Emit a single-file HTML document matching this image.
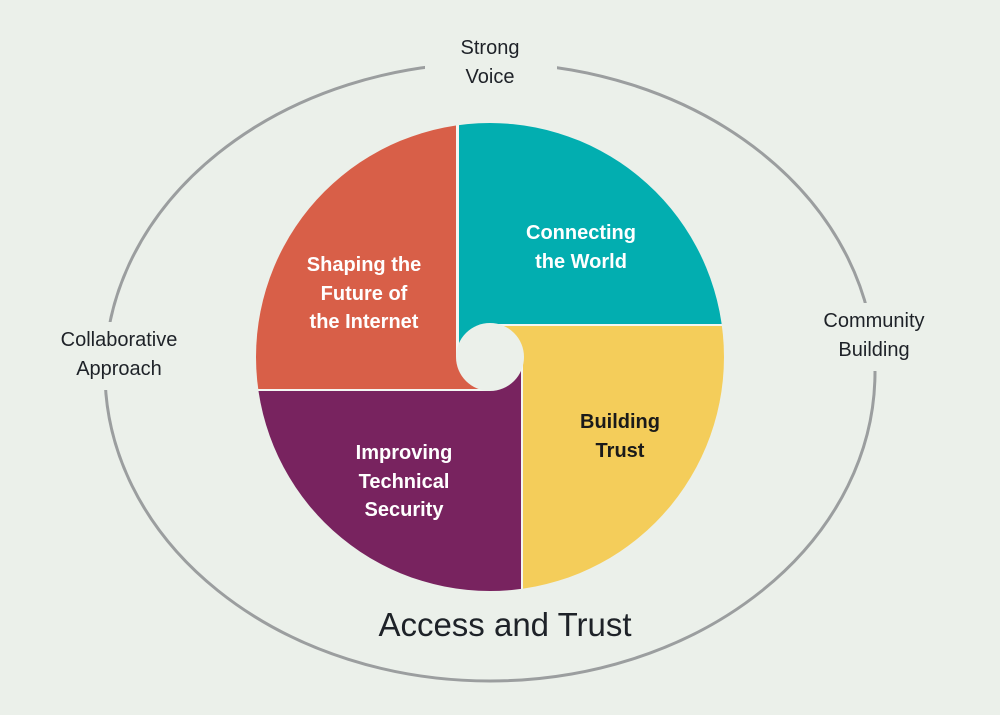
<!DOCTYPE html>
<html><head><meta charset="utf-8"><style>
html,body{margin:0;padding:0;background:#ebf0ea;}
svg{display:block}
text{font-family:"Liberation Sans",sans-serif;}
</style></head><body>
<svg width="1000" height="715" viewBox="0 0 1000 715" xmlns="http://www.w3.org/2000/svg">
<rect width="1000" height="715" fill="#ebf0ea"/>
<ellipse cx="490" cy="372" rx="385" ry="309" fill="none" stroke="#9b9e9f" stroke-width="3"/>
<rect x="425" y="40" width="132" height="50" fill="#ebf0ea"/>
<rect x="90" y="322" width="40" height="68" fill="#ebf0ea"/>
<rect x="850" y="303" width="40" height="68" fill="#ebf0ea"/>
<defs>
<clipPath id="c"><circle cx="490" cy="357" r="234"/></clipPath>
</defs>
<g clip-path="url(#c)">
<rect x="240" y="110" width="500" height="500" fill="#f4f6f2"/>
<rect x="240" y="110" width="216" height="279" fill="#d85f48"/>
<rect x="459" y="110" width="280" height="214" fill="#02aeb0"/>
<rect x="523" y="326" width="216" height="280" fill="#f4cd5a"/>
<rect x="240" y="391" width="281" height="215" fill="#78235f"/>
<rect x="459" y="322" width="31" height="35" fill="#02aeb0"/>
<rect x="490" y="326" width="34" height="31" fill="#f4cd5a"/>
<rect x="490" y="357" width="31" height="35" fill="#78235f"/>
<rect x="455" y="357" width="35" height="32" fill="#d85f48"/>
</g>
<circle cx="490" cy="357" r="34" fill="#ebf0ea"/>
<g font-weight="bold" font-size="20" text-anchor="middle" fill="#fff">
<text x="364" y="271">Shaping the</text>
<text x="364" y="300">Future of</text>
<text x="364" y="328">the Internet</text>
<text x="581" y="239">Connecting</text>
<text x="581" y="268">the World</text>
<text x="620" y="428" fill="#1a1a1a">Building</text>
<text x="620" y="457" fill="#1a1a1a">Trust</text>
<text x="404" y="459">Improving</text>
<text x="404" y="488">Technical</text>
<text x="404" y="516">Security</text>
</g>
<g font-size="20" text-anchor="middle" fill="#1e2228">
<text x="490" y="54">Strong</text>
<text x="490" y="83">Voice</text>
<text x="119" y="346">Collaborative</text>
<text x="119" y="375">Approach</text>
<text x="874" y="327">Community</text>
<text x="874" y="356">Building</text>
<text x="505" y="636" font-size="33">Access and Trust</text>
</g>
</svg>
</body></html>
